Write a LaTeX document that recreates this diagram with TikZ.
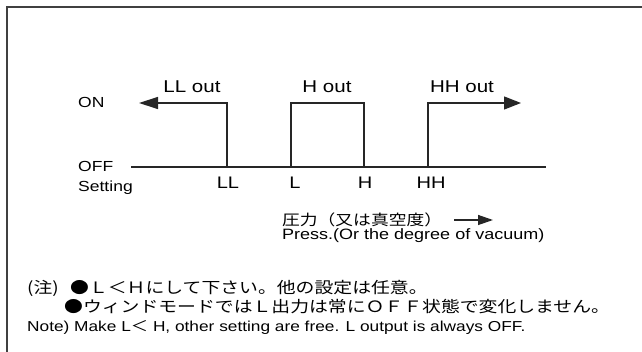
\documentclass[tikz,border=0pt]{standalone}
\usepackage{fontspec}
\setmainfont{Liberation Sans}[FakeStretch=1.2]
\newfontfamily\cjk{Noto Sans CJK JP}[FakeStretch=1.2]
\usetikzlibrary{arrows.meta}

\begin{document}
\begin{tikzpicture}[x=1pt,y=-1pt,
    frame/.style={line width=1.8pt, draw=black!75},
    sig/.style={line width=1.3pt, draw=black!85},
    axis/.style={line width=2.8pt, draw=black!85},
    lvl/.style={inner sep=0pt, anchor=base west, font=\fontsize{14.6}{17}\selectfont},
    outlbl/.style={inner sep=0pt, anchor=base, font=\fontsize{17.1}{20}\selectfont},
    setlbl/.style={inner sep=0pt, anchor=base, font=\fontsize{16.7}{20}\selectfont},
    note/.style={inner sep=0pt, anchor=west, font=\cjk\fontsize{15.7}{19}\selectfont}]
\useasboundingbox (0,0) rectangle (642,352);
\draw[frame] (7,352) -- (7,7) -- (642,7);

\node[lvl] (on)      at (78,108) {ON};
\node[lvl] (off)     at (78,172) {OFF};
\node[lvl] (setting) at (78,192) {Setting};

\coordinate (start) at (131,167);
\coordinate (stop)  at (546,167);
\draw[axis] (start) -- (stop);

\coordinate (ll)  at (227,167);
\coordinate (l)   at (291,167);
\coordinate (h)   at (364,167);
\coordinate (hh)  at (428,167);
\coordinate (llend) at (139,103);
\coordinate (hhend) at (521,103);

\draw[sig, -{Triangle[length=19pt,width=12pt]}] (ll) |- (llend);
\draw[sig] (l) -- (l |- llend) -- (h |- llend) -- (h);
\draw[sig, -{Triangle[length=17pt,width=13pt]}] (hh) |- (hhend);

\node[outlbl] (llout) at (192,93) {LL out};
\node[outlbl] (hout)  at (327,93) {H out};
\node[outlbl] (hhout) at (462,93) {HH out};

\node[setlbl] (lllbl) at (228,189) {LL};
\node[setlbl] (llbl)  at (295,189) {L};
\node[setlbl] (hlbl)  at (365,189) {H};
\node[setlbl] (hhlbl) at (431,189) {HH};

\node[inner sep=0pt, anchor=west, font=\cjk\fontsize{14.8}{18}\selectfont] (press) at (282,220) {圧力（又は真空度）};
\coordinate (pend) at (493,220);
\draw[sig, -{Triangle[length=15pt,width=10pt]}] ([xshift=12pt]press.east) -- (pend);
\node[inner sep=0pt, anchor=base west, font=\fontsize{15}{18}\selectfont] (pressen) at (282,240) {Press.(Or the degree of vacuum)};

\node[note] (chu)   at (27,288) {(注)};
\node[note] (note1) at (70,288) {●Ｌ＜Ｈにして下さい。他の設定は任意。};
\node[note] (note2) at (64,307) {●ウィンドモードではＬ出力は常にＯＦＦ状態で変化しません。};
\node[inner sep=0pt, anchor=base west, font=\fontsize{14.4}{17}\selectfont] (noteen) at (27,331) {Note) Make L{\cjk ＜} H, other setting are free. L output is always OFF.};
\end{tikzpicture}
\end{document}
